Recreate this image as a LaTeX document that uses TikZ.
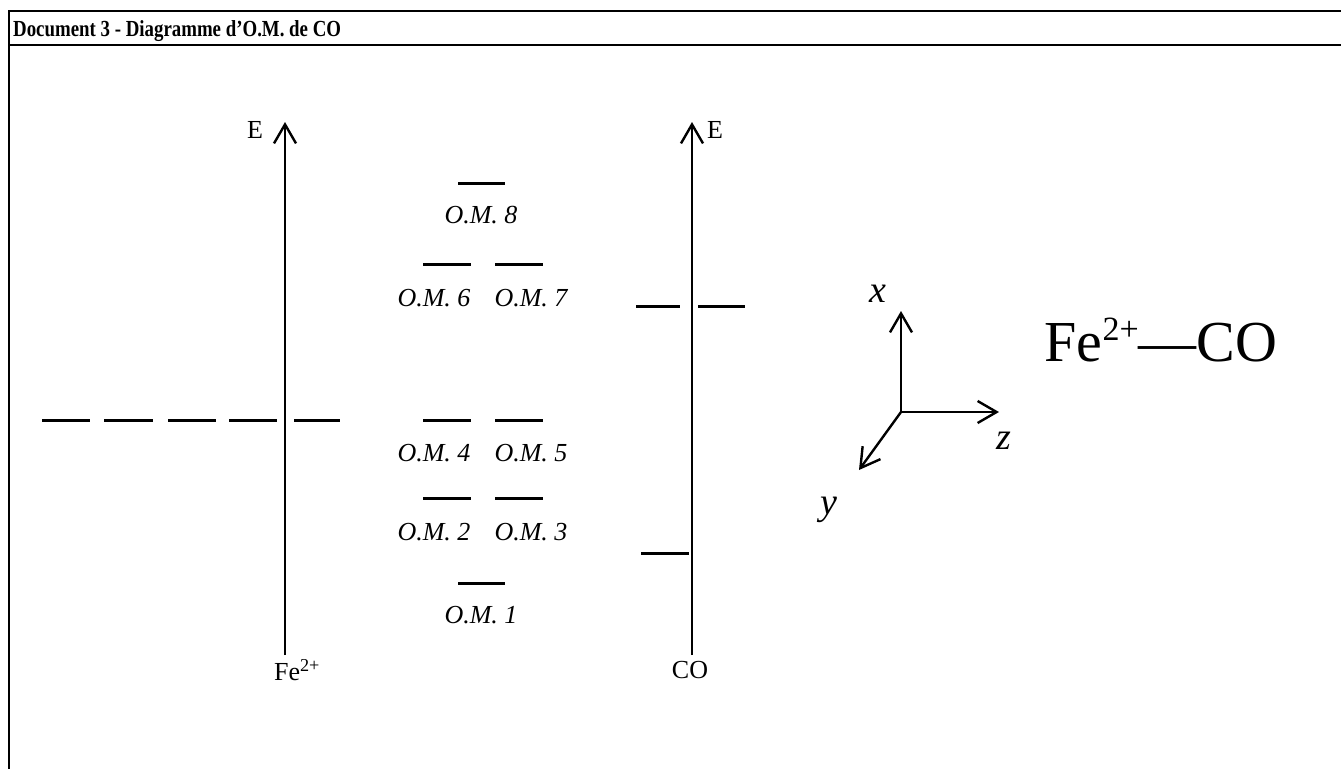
\documentclass[tikz,border=0pt]{standalone}
\usepackage{fontspec}
\setmainfont{Liberation Serif}
\usetikzlibrary{arrows.meta}

\begin{document}
\begin{tikzpicture}[x=1pt,y=-1pt]
  \tikzset{frame/.style = {line width=2pt}}
  \tikzset{axis/.style = {line width=2.4pt,-{Straight Barb[length=19pt,width=22pt]}}}
  \tikzset{level/.style = {line width=3pt}}
  \tikzset{omlabel/.style = {inner sep=0pt,font=\fontsize{26}{26}\selectfont\itshape}}
  \tikzset{txt/.style = {inner sep=0pt,font=\fontsize{26}{26}\selectfont}}
  \tikzset{axlabel/.style = {inner sep=0pt,font=\fontsize{38}{38}\selectfont\itshape}}

\useasboundingbox (0,0) rectangle (1341,769);

% frame and title
\coordinate (tl) at (9,11);
\coordinate (tr) at (1341,11);
\coordinate (hl) at (9,45);
\coordinate (hr) at (1341,45);
\coordinate (bl) at (9,769);
\draw[frame] (tr) -- (tl) -- (bl);
\draw[frame] (hl) -- (hr);
\node[anchor=base west,inner sep=0pt,font=\fontsize{23}{23}\selectfont\bfseries\addfontfeature{FakeStretch=0.82}] (title) at (13,36) {Document 3 - Diagramme d’O.M. de CO};

% energy axes
\coordinate (fe0) at (285,655);
\coordinate (fe1) at (285,122);
\coordinate (co0) at (692,655);
\coordinate (co1) at (692,122);
\draw[axis] (fe0) -- (fe1);
\draw[axis] (co0) -- (co1);
\node[txt] (efe) at (255,130) {E};
\node[txt] (eco) at (715,130) {E};
\node[txt] (fe) at (297,670) {Fe\textsuperscript{2+}};
\node[txt] (co) at (690,670) {CO};

% d levels of Fe2+
\foreach \a/\b in {42/90,104/153,168/216,229/277,294/340}
  \draw[level] (\a,420) -- (\b,420);

% levels of CO
\draw[level] (636,306) -- (680,306);
\draw[level] (698,306) -- (745,306);
\draw[level] (641,553) -- (689,553);

% O.M. of CO
\draw[level] (458,183) -- (505,183);
\node[omlabel] (om8) at (481,215) {O.M. 8};
\draw[level] (423,264) -- (471,264);
\draw[level] (495,264) -- (543,264);
\node[omlabel] (om6) at (434,298) {O.M. 6};
\node[omlabel] (om7) at (531,298) {O.M. 7};
\draw[level] (423,420) -- (471,420);
\draw[level] (495,420) -- (543,420);
\node[omlabel] (om4) at (434,453) {O.M. 4};
\node[omlabel] (om5) at (531,453) {O.M. 5};
\draw[level] (423,498) -- (471,498);
\draw[level] (495,498) -- (543,498);
\node[omlabel] (om2) at (434,532) {O.M. 2};
\node[omlabel] (om3) at (531,532) {O.M. 3};
\draw[level] (458,583) -- (505,583);
\node[omlabel] (om1) at (481,615) {O.M. 1};

% x y z
\coordinate (o) at (901,412);
\coordinate (xa) at (901,311);
\coordinate (za) at (999,412);
\coordinate (ya) at (859,470);
\draw[axis] (o) -- (xa);
\draw[axis] (o) -- (za);
\draw[axis] (o) -- (ya);
\node[axlabel] (xl) at (878,294) {x};
\node[axlabel] (zl) at (1004,441) {z};
\node[axlabel] (yl) at (829,510) {y};

\node[inner sep=0pt,font=\fontsize{58}{58}\selectfont] (feco) at (1161,340) {Fe{\fontsize{34}{34}\selectfont\raisebox{0.62em}{2+}}—CO};

\end{tikzpicture}
\end{document}
